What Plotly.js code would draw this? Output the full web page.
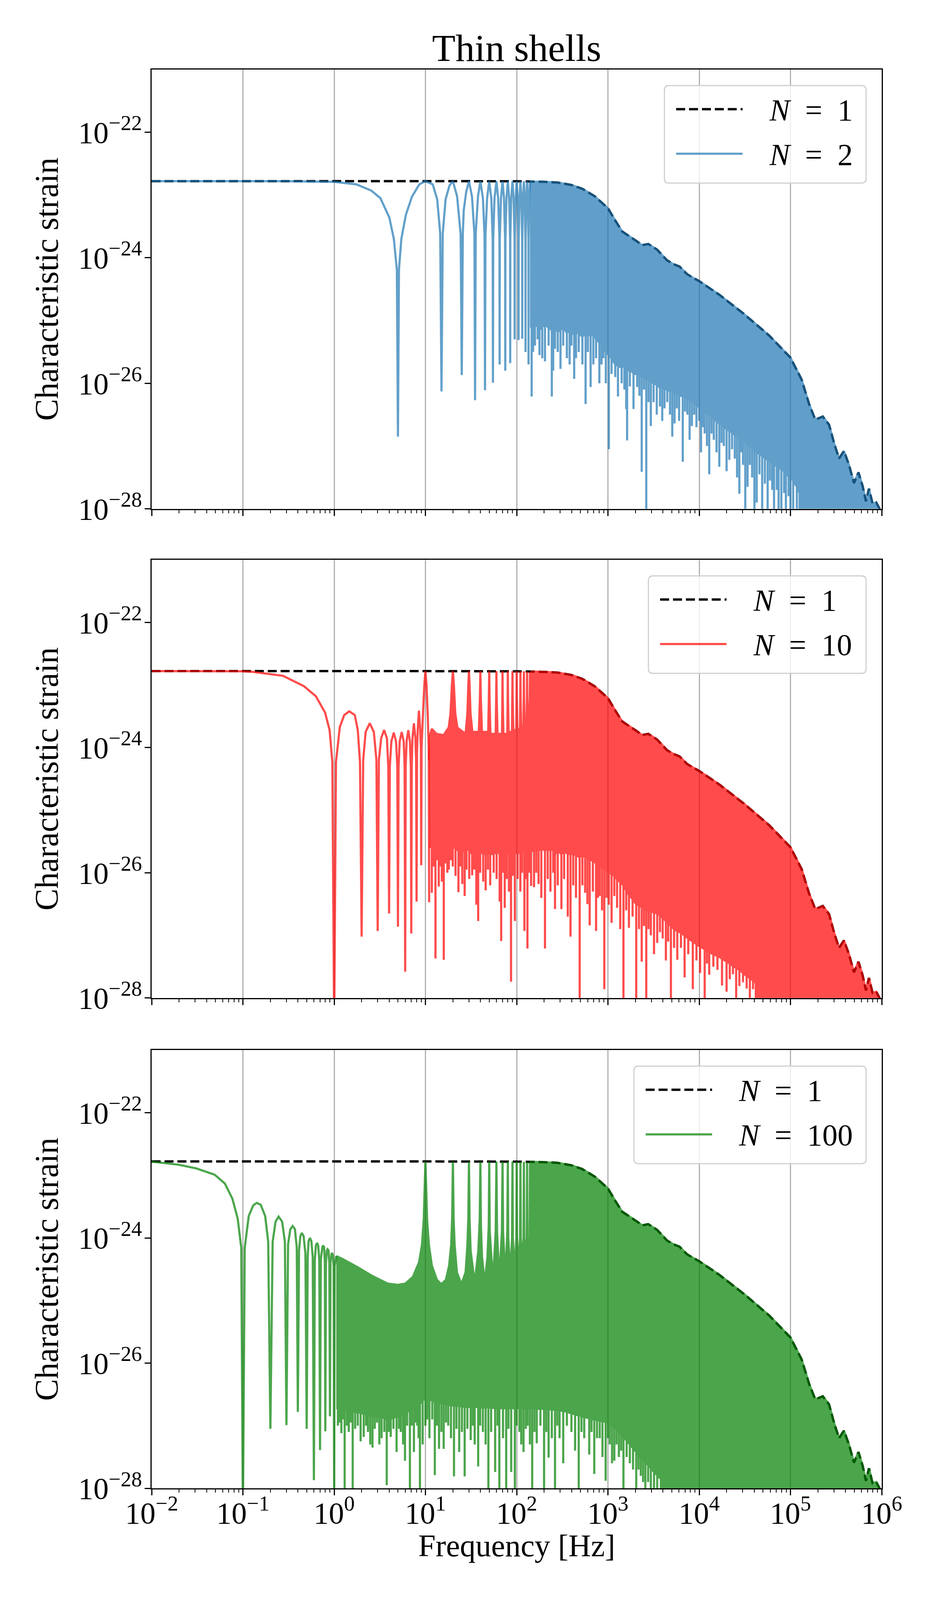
<!DOCTYPE html>
<html>
<head>
<meta charset="utf-8">
<script src="https://cdn.plot.ly/plotly-3.0.1.min.js"></script>
<style>html,body{margin:0;padding:0;background:#fff;overflow:hidden}</style>
</head>
<body>
<div id="plot" style="width:2400px;height:4200px"></div>
<script>
// All values are log10 readings off the axes: [log10 f (Hz), log10 strain]

// N = 1 curve (same in every panel)
const envPts = [
  [-2, -22.778], [-1, -22.778], [0, -22.778], [1, -22.778], [2, -22.781], [2.2, -22.786],
  [2.3, -22.79], [2.445, -22.80], [2.6, -22.84], [2.718, -22.90], [2.855, -23.02], [3.0, -23.21],
  [3.073, -23.39], [3.155, -23.58], [3.237, -23.66], [3.32, -23.74], [3.374, -23.80], [3.442, -23.78],
  [3.538, -23.87], [3.647, -24.04], [3.715, -24.10], [3.784, -24.14], [3.866, -24.26], [3.934, -24.32],
  [3.997, -24.37], [4.221, -24.59], [4.494, -24.90], [4.767, -25.24], [4.999, -25.59], [5.122, -25.94],
  [5.204, -26.33], [5.272, -26.58], [5.354, -26.53], [5.423, -26.66], [5.477, -26.95], [5.532, -27.20],
  [5.586, -27.08], [5.641, -27.30], [5.696, -27.59], [5.745, -27.42], [5.791, -27.64], [5.827, -27.88],
  [5.86, -27.68], [5.9, -27.92], [5.94, -27.90], [5.98, -28.01], [6.0, -28.2]
];

// N = 2: visible lobes up to 140 Hz
const p1Lobe = [
  [-2, -22.778], [-1, -22.778], [-0.5, -22.779], [0, -22.79], [0.244, -22.83], [0.408, -22.93],
  [0.507, -23.05], [0.605, -23.36], [0.654, -23.70], [0.687, -24.19], [0.699, -26.85], [0.710, -24.19],
  [0.736, -23.70], [0.785, -23.32], [0.851, -23.03], [0.933, -22.83], [1.0, -22.778],
  [1.080, -22.83], [1.129, -23.07], [1.162, -23.61], [1.176, -26.13], [1.190, -23.61], [1.221, -23.07],
  [1.263, -22.85], [1.301, -22.778],
  [1.347, -23.02], [1.386, -23.62], [1.398, -25.87], [1.410, -23.62], [1.42, -23.24], [1.447, -22.95], [1.477, -22.778],
  [1.510, -23.02], [1.537, -23.62], [1.544, -26.27], [1.551, -23.62], [1.576, -23.02], [1.602, -22.778],
  [1.630, -23.05], [1.648, -23.65], [1.653, -26.11], [1.658, -23.65], [1.676, -23.05], [1.699, -22.778],
  [1.722, -23.05], [1.737, -23.7], [1.740, -25.99], [1.743, -23.7], [1.757, -23.05], [1.778, -22.778],
  [1.797, -23.05], [1.811, -23.7], [1.813, -25.70], [1.815, -23.7], [1.828, -23.05], [1.845, -22.778],
  [1.861, -23.05], [1.873, -23.7], [1.875, -25.80], [1.877, -23.7], [1.888, -23.05], [1.903, -22.778],
  [1.917, -23.05], [1.928, -23.7], [1.929, -25.68], [1.930, -23.7], [1.940, -23.05], [1.954, -22.778],
  [1.966, -23.05], [1.977, -23.7], [1.978, -25.30], [1.979, -23.7], [1.989, -23.05], [2.0, -22.778],
  [2.011, -23.05], [2.020, -23.7], [2.021, -25.31], [2.022, -23.7], [2.031, -23.05], [2.041, -22.778],
  [2.051, -23.05], [2.060, -23.7], [2.061, -25.29], [2.062, -23.7], [2.070, -23.05], [2.079, -22.78],
  [2.088, -23.05], [2.096, -23.7], [2.097, -25.50], [2.098, -23.7], [2.106, -23.05], [2.114, -22.78],
  [2.122, -23.05], [2.129, -23.7], [2.130, -25.70], [2.131, -23.7], [2.138, -23.05], [2.146, -22.78]
];
// N = 2: top edge of the dense band (then follows the N = 1 curve)
const p1Top = [[2.146, -22.78]];
// N = 2: bottom edge of the dense band, [log f, band edge, spike tip]
const p1Low = [
  [2.146, -25.1, -25.1], [2.164, -25.1, -26.21], [2.18, -25.12, -25.5], [2.20, -25.05, -25.4],
  [2.23, -25.1, -25.3], [2.25, -25.15, -25.55], [2.28, -25.1, -25.6], [2.31, -25.05, -25.65],
  [2.35, -25.12, -25.4], [2.385, -25.15, -26.21], [2.40, -25.1, -25.8], [2.42, -25.12, -25.45],
  [2.45, -25.18, -25.5], [2.48, -25.15, -25.77], [2.51, -25.1, -25.4], [2.55, -25.2, -25.6],
  [2.58, -25.15, -25.7], [2.60, -25.2, -25.4], [2.63, -25.22, -25.93], [2.65, -25.15, -25.6],
  [2.68, -25.22, -25.5], [2.72, -25.25, -25.7], [2.755, -25.22, -26.33], [2.78, -25.2, -25.5],
  [2.81, -25.25, -26.06], [2.84, -25.2, -25.7], [2.87, -25.3, -25.6], [2.906, -25.35, -26.0],
  [2.93, -25.4, -25.7], [2.95, -25.45, -25.6], [2.977, -25.5, -26.0], [3.01, -25.55, -27.05],
  [3.04, -25.6, -25.85], [3.08, -25.7, -25.9], [3.11, -25.72, -26.21], [3.15, -25.75, -26.0],
  [3.18, -25.72, -26.1], [3.20, -25.8, -26.41], [3.21, -25.8, -26.91], [3.24, -25.78, -26.05],
  [3.28, -25.84, -26.41], [3.32, -25.86, -26.06], [3.345, -25.85, -26.2], [3.37, -25.9, -27.41],
  [3.395, -25.9, -26.1], [3.42, -25.93, -28.5], [3.445, -25.95, -26.3], [3.47, -25.97, -26.68],
  [3.50, -26.0, -26.3], [3.535, -26.02, -26.5], [3.57, -26.07, -26.37], [3.595, -26.05, -26.6],
  [3.62, -26.1, -26.4], [3.65, -26.1, -26.3], [3.68, -26.13, -26.5], [3.705, -26.12, -26.85],
  [3.73, -26.16, -26.64], [3.755, -26.15, -26.4], [3.78, -26.19, -26.6], [3.82, -26.21, -27.25],
  [3.845, -26.2, -26.45], [3.87, -26.25, -26.5], [3.895, -26.25, -26.9], [3.92, -26.3, -26.68],
  [3.945, -26.3, -26.5], [3.97, -26.35, -26.7], [4.0, -26.38, -26.6], [4.02, -26.42, -27.10],
  [4.04, -26.42, -26.7], [4.06, -26.46, -26.8], [4.085, -26.47, -27.0], [4.11, -26.51, -27.45],
  [4.135, -26.52, -26.8], [4.16, -26.57, -26.9], [4.19, -26.6, -27.1], [4.22, -26.64, -27.33],
  [4.245, -26.65, -26.95], [4.27, -26.7, -27.0], [4.30, -26.72, -27.4], [4.33, -26.76, -27.22],
  [4.36, -26.78, -27.05], [4.39, -26.82, -27.2], [4.415, -26.84, -27.5], [4.44, -26.88, -27.76],
  [4.46, -26.9, -27.1], [4.48, -26.92, -27.3], [4.505, -26.95, -28.5], [4.53, -26.98, -27.65],
  [4.555, -27.0, -27.3], [4.58, -27.04, -27.5], [4.605, -27.06, -28.5], [4.63, -27.1, -27.90],
  [4.66, -27.12, -27.45], [4.69, -27.16, -28.5], [4.72, -27.19, -27.6], [4.75, -27.22, -28.5],
  [4.775, -27.24, -27.55], [4.80, -27.27, -27.7], [4.82, -27.29, -28.5], [4.85, -27.32, -27.7],
  [4.87, -27.34, -28.5], [4.90, -27.37, -28.5], [4.93, -27.4, -27.75], [4.95, -27.45, -28.5],
  [4.98, -27.48, -27.8], [5.00, -27.5, -28.5], [5.03, -27.55, -28.5], [5.07, -27.65, -28.5],
  [5.1, -27.75, -28.5], [5.13, -28.5, -28.5], [6.0, -28.5, -28.5]
];

// N = 10: visible lobes up to 11 Hz
const p2Lobe = [
  [-2, -22.778], [-1, -22.78], [-0.89, -22.79], [-0.56, -22.853], [-0.33, -23.02], [-0.20, -23.18],
  [-0.10, -23.44], [-0.05, -23.72], [-0.02, -24.23], [0.0, -28.5], [0.02, -24.23], [0.062, -23.67],
  [0.11, -23.48], [0.165, -23.42], [0.226, -23.48], [0.259, -23.72], [0.283, -24.23], [0.301, -27.02],
  [0.318, -24.2], [0.345, -23.75], [0.39, -23.61], [0.435, -23.75], [0.463, -24.2], [0.477, -26.93],
  [0.490, -24.2], [0.515, -23.85], [0.547, -23.72], [0.578, -23.85], [0.593, -24.3], [0.602, -26.65],
  [0.610, -24.3], [0.627, -23.9], [0.653, -23.76], [0.678, -23.9], [0.692, -24.3], [0.699, -26.86],
  [0.706, -24.3], [0.718, -23.9], [0.740, -23.75], [0.762, -23.9], [0.772, -24.3], [0.778, -27.58],
  [0.784, -24.3], [0.794, -23.9], [0.812, -23.72], [0.830, -23.9], [0.840, -24.3], [0.845, -26.97],
  [0.850, -24.3], [0.858, -23.85], [0.874, -23.61], [0.890, -23.85], [0.898, -24.2], [0.903, -26.46],
  [0.908, -24.1], [0.916, -23.7], [0.929, -23.41], [0.942, -23.7], [0.950, -24.0], [0.954, -25.88],
  [0.958, -24.0], [0.972, -23.5], [0.988, -23.0], [1.0, -22.778], [1.012, -23.0], [1.026, -23.5],
  [1.036, -24.0], [1.041, -26.47]
];
const p2Top = [
  [1.041, -24.2], [1.05, -23.8], [1.07, -23.7], [1.12, -23.78], [1.2, -23.8], [1.255, -23.68],
  [1.275, -23.45], [1.290, -23.0], [1.301, -22.778], [1.312, -23.0], [1.327, -23.45], [1.35, -23.68],
  [1.44, -23.78], [1.46, -23.45], [1.470, -23.0], [1.477, -22.778], [1.484, -23.0], [1.494, -23.45],
  [1.515, -23.75], [1.585, -23.75], [1.597, -23.2], [1.602, -22.778], [1.607, -23.2], [1.62, -23.75],
  [1.688, -23.75], [1.695, -23.2], [1.699, -22.778], [1.703, -23.2], [1.712, -23.78], [1.770, -23.78],
  [1.775, -23.2], [1.778, -22.778], [1.781, -23.2], [1.79, -23.78], [1.839, -23.78], [1.843, -23.2],
  [1.845, -22.778], [1.847, -23.2], [1.855, -23.78], [1.897, -23.78], [1.901, -23.2], [1.903, -22.778],
  [1.905, -23.2], [1.912, -23.75], [1.948, -23.75], [1.952, -23.2], [1.954, -22.778], [1.956, -23.2],
  [1.963, -23.72], [1.995, -23.72], [1.998, -23.2], [2.0, -22.778], [2.002, -23.2], [2.008, -23.7],
  [2.036, -23.7], [2.039, -23.2], [2.041, -22.778], [2.043, -23.2], [2.049, -23.65], [2.074, -23.65],
  [2.077, -23.2], [2.079, -22.78], [2.081, -23.2], [2.087, -23.6], [2.109, -23.6], [2.112, -23.2],
  [2.114, -22.785], [2.116, -23.2], [2.122, -23.5], [2.141, -23.5], [2.144, -23.1], [2.146, -22.79],
  [2.15, -23.2], [2.157, -23.2], [2.161, -22.79]
];
const p2Low = [
  [1.045, -25.6, -25.6], [1.07, -25.55, -26.32], [1.09, -25.6, -25.9], [1.11, -25.6, -27.37],
  [1.13, -25.5, -25.8], [1.146, -25.6, -26.22], [1.165, -25.55, -25.9], [1.18, -25.6, -26.14],
  [1.201, -25.6, -27.39], [1.22, -25.5, -25.85], [1.24, -25.6, -26.0], [1.257, -25.6, -25.95],
  [1.28, -25.55, -25.8], [1.30, -25.6, -25.9], [1.33, -25.6, -26.05], [1.362, -25.65, -26.31],
  [1.385, -25.6, -25.9], [1.404, -25.65, -26.18], [1.43, -25.65, -26.37], [1.45, -25.6, -25.95],
  [1.48, -25.65, -26.1], [1.512, -25.7, -26.04], [1.535, -25.65, -25.95], [1.558, -25.7, -26.51],
  [1.578, -25.7, -26.77], [1.60, -25.65, -26.0], [1.633, -25.7, -26.14], [1.66, -25.7, -26.28],
  [1.685, -25.65, -25.95], [1.71, -25.7, -26.2], [1.748, -25.7, -26.0], [1.78, -25.65, -26.1],
  [1.813, -25.7, -26.46], [1.83, -25.7, -27.09], [1.85, -25.65, -26.0], [1.869, -25.7, -26.56],
  [1.89, -25.7, -26.1], [1.915, -25.65, -26.3], [1.938, -25.7, -27.74], [1.96, -25.7, -26.05],
  [1.98, -25.7, -26.77], [2.01, -25.65, -26.1], [2.04, -25.7, -26.3], [2.06, -25.65, -26.0],
  [2.085, -25.65, -26.93], [2.10, -25.6, -26.1], [2.118, -25.65, -27.21], [2.14, -25.6, -26.0],
  [2.158, -25.65, -26.21], [2.19, -25.65, -26.23], [2.215, -25.6, -26.0], [2.24, -25.65, -26.18],
  [2.27, -25.6, -26.4], [2.31, -25.65, -27.21], [2.34, -25.6, -26.1], [2.37, -25.65, -26.3],
  [2.40, -25.6, -26.0], [2.42, -25.7, -26.58], [2.45, -25.65, -26.2], [2.49, -25.7, -26.58],
  [2.52, -25.65, -26.1], [2.56, -25.7, -26.70], [2.59, -25.7, -27.02], [2.62, -25.7, -26.2],
  [2.65, -25.72, -26.4], [2.69, -25.75, -28.5], [2.72, -25.72, -26.2], [2.75, -25.75, -26.32],
  [2.775, -25.75, -26.5], [2.80, -25.8, -26.84], [2.835, -25.8, -26.3], [2.87, -25.85, -26.93],
  [2.89, -25.85, -26.4], [2.91, -25.9, -26.37], [2.935, -25.9, -26.6], [2.96, -25.95, -27.86],
  [2.985, -25.95, -26.4], [3.01, -26.0, -26.51], [3.04, -26.02, -26.8], [3.07, -26.05, -26.37],
  [3.10, -26.1, -26.56], [3.135, -26.15, -26.9], [3.17, -26.2, -28.5], [3.20, -26.28, -26.6],
  [3.23, -26.35, -26.88], [3.27, -26.42, -26.7], [3.31, -26.5, -28.5], [3.34, -26.52, -26.9],
  [3.37, -26.55, -27.42], [3.395, -26.57, -26.85], [3.42, -26.6, -28.5], [3.445, -26.6, -26.9],
  [3.47, -26.62, -27.0], [3.505, -26.63, -27.3], [3.54, -26.65, -27.12], [3.57, -26.68, -26.95],
  [3.60, -26.72, -27.05], [3.635, -26.77, -27.4], [3.66, -26.8, -27.1], [3.69, -26.85, -28.5],
  [3.725, -26.9, -27.2], [3.76, -26.93, -27.39], [3.80, -26.96, -27.2], [3.84, -27.0, -27.67],
  [3.88, -27.05, -27.3], [3.93, -27.1, -27.86], [3.97, -27.14, -27.4], [4.01, -27.18, -27.6],
  [4.06, -27.22, -28.5], [4.085, -27.24, -27.45], [4.11, -27.27, -27.63], [4.155, -27.3, -27.5],
  [4.20, -27.33, -27.55], [4.25, -27.37, -27.8], [4.30, -27.42, -27.9], [4.335, -27.45, -27.7],
  [4.37, -27.49, -27.62], [4.405, -27.52, -28.5], [4.44, -27.55, -27.81], [4.48, -27.6, -27.75],
  [4.52, -27.65, -27.85], [4.555, -27.68, -28.5], [4.59, -27.72, -27.86], [4.62, -27.76, -28.5],
  [4.65, -28.5, -28.5], [6.0, -28.5, -28.5]
];

// N = 100: visible lobes up to 1 Hz
const p3Lobe = [
  [-2, -22.78], [-1.705, -22.83], [-1.509, -22.89], [-1.31, -22.99], [-1.198, -23.13], [-1.116, -23.37],
  [-1.057, -23.69], [-1.018, -24.16], [-1.0, -28.5], [-0.98, -24.16], [-0.936, -23.65], [-0.887, -23.48],
  [-0.848, -23.44], [-0.805, -23.47], [-0.756, -23.65], [-0.723, -24.06], [-0.699, -27.05],
  [-0.674, -24.06], [-0.642, -23.74], [-0.609, -23.66], [-0.57, -23.74], [-0.54, -24.06], [-0.523, -26.99],
  [-0.505, -24.1], [-0.48, -23.86], [-0.455, -23.81], [-0.43, -23.86], [-0.41, -24.15], [-0.398, -26.78],
  [-0.385, -24.2], [-0.37, -23.97], [-0.354, -23.92], [-0.335, -23.97], [-0.315, -24.25], [-0.301, -27.05],
  [-0.29, -24.3], [-0.28, -24.05], [-0.265, -24.0], [-0.25, -24.05], [-0.235, -24.3], [-0.222, -27.87],
  [-0.212, -24.35], [-0.2, -24.12], [-0.187, -24.08], [-0.175, -24.12], [-0.163, -24.35], [-0.155, -27.39],
  [-0.146, -24.35], [-0.13, -24.15], [-0.121, -24.12], [-0.11, -24.15], [-0.102, -24.4], [-0.097, -27.09],
  [-0.09, -24.4], [-0.08, -24.2], [-0.072, -24.18], [-0.062, -24.2], [-0.053, -24.4], [-0.046, -26.85],
  [-0.04, -24.4], [-0.03, -24.26], [-0.023, -24.24], [-0.015, -24.27], [-0.006, -24.45], [0.0, -28.5],
  [0.005, -24.45], [0.023, -24.29]
];
const p3Top = [
  [0.023, -24.29], [0.095, -24.34], [0.259, -24.47], [0.42, -24.61], [0.586, -24.73], [0.70, -24.75],
  [0.78, -24.73], [0.864, -24.62], [0.93, -24.39], [0.962, -24.11], [0.982, -23.69], [1.0, -22.778],
  [1.018, -23.69], [1.038, -24.11], [1.07, -24.44], [1.126, -24.67], [1.175, -24.74], [1.224, -24.67],
  [1.26, -24.44], [1.282, -24.11], [1.293, -23.69], [1.301, -22.778], [1.309, -23.69], [1.32, -24.11],
  [1.345, -24.55], [1.395, -24.74], [1.44, -24.55], [1.46, -24.11], [1.47, -23.69], [1.477, -22.778],
  [1.484, -23.7], [1.495, -24.2], [1.54, -24.72], [1.58, -24.2], [1.595, -23.7], [1.602, -22.78],
  [1.608, -23.8], [1.62, -24.3], [1.65, -24.72], [1.68, -24.3], [1.694, -23.8], [1.699, -22.78],
  [1.705, -23.9], [1.74, -24.7], [1.77, -23.9], [1.778, -22.78], [1.785, -23.9], [1.81, -24.68],
  [1.838, -23.9], [1.845, -22.78], [1.851, -23.9], [1.875, -24.65], [1.897, -23.9], [1.903, -22.78],
  [1.908, -24.0], [1.93, -24.6], [1.949, -24.0], [1.954, -22.78], [1.958, -24.0], [1.98, -24.55],
  [1.996, -24.0], [2.0, -22.78], [2.004, -24.0], [2.02, -24.5], [2.037, -24.0], [2.041, -22.78],
  [2.045, -24.0], [2.06, -24.45], [2.075, -24.0], [2.079, -22.785], [2.083, -24.0], [2.097, -24.4],
  [2.11, -24.0], [2.114, -22.785], [2.118, -24.0], [2.13, -24.3], [2.142, -24.0], [2.146, -22.79]
];
const p3Low = [
  [0.023, -26.72, -26.72], [0.041, -26.72, -27.0], [0.06, -26.7, -26.95], [0.079, -26.74, -27.12],
  [0.097, -26.72, -26.9], [0.115, -26.75, -28.5], [0.14, -26.73, -27.0], [0.16, -26.77, -27.1],
  [0.18, -26.75, -26.95], [0.203, -26.78, -28.5], [0.23, -26.76, -27.05], [0.259, -26.8, -27.0],
  [0.29, -26.78, -27.25], [0.324, -26.82, -27.18], [0.35, -26.8, -27.0], [0.37, -26.84, -27.1],
  [0.395, -26.82, -27.3], [0.42, -26.86, -27.35], [0.445, -26.84, -27.05], [0.47, -26.87, -26.95],
  [0.495, -26.85, -27.3], [0.52, -26.88, -27.2], [0.55, -26.86, -27.1], [0.576, -26.9, -27.95],
  [0.60, -26.88, -27.1], [0.62, -26.89, -27.18], [0.65, -26.87, -27.05], [0.684, -26.86, -27.42],
  [0.71, -26.84, -27.05], [0.73, -26.83, -27.1], [0.755, -26.82, -27.3], [0.776, -26.8, -27.56],
  [0.80, -26.78, -27.0], [0.83, -26.75, -28.5], [0.85, -26.72, -27.0], [0.874, -26.7, -27.42],
  [0.89, -26.68, -26.95], [0.91, -26.66, -27.0], [0.925, -26.66, -27.2], [0.94, -26.65, -28.5],
  [0.97, -26.6, -27.3], [1.0, -26.55, -27.0], [1.02, -26.55, -26.9], [1.044, -26.58, -27.2],
  [1.075, -26.6, -26.9], [1.103, -26.62, -27.79], [1.125, -26.62, -27.0], [1.149, -26.64, -27.37],
  [1.175, -26.64, -27.1], [1.20, -26.65, -27.37], [1.225, -26.65, -26.95], [1.25, -26.67, -27.0],
  [1.28, -26.67, -27.2], [1.313, -26.68, -27.81], [1.34, -26.68, -27.05], [1.37, -26.69, -27.42],
  [1.40, -26.69, -27.1], [1.43, -26.7, -27.81], [1.46, -26.7, -27.05], [1.496, -26.7, -27.23],
  [1.52, -26.7, -27.0], [1.54, -26.7, -27.3], [1.578, -26.7, -27.65], [1.60, -26.7, -27.0],
  [1.63, -26.71, -27.1], [1.66, -26.71, -27.3], [1.69, -26.71, -28.5], [1.72, -26.71, -27.1],
  [1.764, -26.72, -27.74], [1.79, -26.72, -27.0], [1.81, -26.72, -28.5], [1.85, -26.72, -27.2],
  [1.885, -26.72, -28.5], [1.91, -26.72, -27.05], [1.94, -26.72, -27.74], [1.98, -26.72, -28.5],
  [2.0, -26.72, -27.0], [2.03, -26.72, -27.1], [2.05, -26.72, -27.3], [2.075, -26.72, -27.42],
  [2.10, -26.72, -27.05], [2.12, -26.72, -27.0], [2.145, -26.72, -27.3], [2.17, -26.72, -28.5],
  [2.195, -26.72, -27.1], [2.22, -26.73, -27.28], [2.26, -26.73, -27.0], [2.30, -26.73, -28.5],
  [2.325, -26.74, -27.1], [2.35, -26.74, -27.51], [2.385, -26.74, -27.2], [2.42, -26.75, -28.5],
  [2.445, -26.75, -27.0], [2.47, -26.75, -27.2], [2.51, -26.76, -27.6], [2.55, -26.78, -27.0],
  [2.60, -26.8, -27.1], [2.64, -26.82, -27.4], [2.68, -26.83, -28.5], [2.71, -26.85, -27.1],
  [2.74, -26.86, -27.2], [2.795, -26.88, -27.46], [2.82, -26.89, -27.1], [2.85, -26.9, -27.77],
  [2.88, -26.91, -27.2], [2.91, -26.92, -27.2], [2.94, -26.93, -27.5], [2.975, -26.94, -27.88],
  [3.0, -26.96, -27.2], [3.02, -26.97, -27.3], [3.045, -27.0, -27.6], [3.07, -27.02, -27.56],
  [3.095, -27.05, -27.3], [3.12, -27.1, -27.5], [3.145, -27.14, -27.4], [3.17, -27.18, -28.5],
  [3.205, -27.24, -27.5], [3.24, -27.3, -27.6], [3.275, -27.36, -27.7], [3.31, -27.42, -28.5],
  [3.335, -27.46, -27.7], [3.36, -27.5, -27.8], [3.385, -27.54, -27.9], [3.41, -27.58, -28.5],
  [3.44, -27.63, -27.9], [3.47, -27.68, -28.0], [3.505, -27.74, -28.5], [3.54, -27.79, -28.5],
  [3.58, -27.85, -28.5], [3.62, -28.5, -28.5], [6.0, -28.5, -28.5]
];

const nValues = [2, 10, 100];
const colors = ['#1f77b4', '#ff0000', '#008000'];
const lobes = [p1Lobe, p2Lobe, p3Lobe];
const tops = [p1Top, p2Top, p3Top];
const lows = [p1Low, p2Low, p3Low];
const xTickExp = [-2, -1, 0, 1, 2, 3, 4, 5, 6];
const yTickExp = [-28, -26, -24, -22];

const FONT = 'Liberation Serif, DejaVu Serif, serif';
const pow10 = v => Math.pow(10, v);
const MINUS = '\u2212';
const expLabel = e => '10<sup>' + (e < 0 ? MINUS + (-e) : e) + '</sup>';

// pixel layout of the 2400 x 4200 original; the page is fitted to the visible window height
const W = 2400, H0 = 4200;
const H = window.innerHeight > 1000 ? Math.min(window.innerHeight, H0) : H0;
const sy = H / H0;
document.getElementById('plot').style.height = H + 'px';
const L = 388, R = 144, T = 183, B = 293;
const plotW = W - L - R, plotH = H0 - T - B;
const panelTop = [183, 1470, 2757], panelBot = [1336, 2620, 3907];
const px = X => (X - L) / plotW;
const py = Y => (H0 - B - Y) / plotH;

const ax = i => (i === 0 ? '' : String(i + 1));
const traces = [];
for (let i = 0; i < 3; i++) {
  const xa = 'x' + ax(i), ya = 'y' + ax(i);
  traces.push({
    x: envPts.map(p => pow10(p[0])), y: envPts.map(p => pow10(p[1])),
    type: 'scatter', mode: 'lines', xaxis: xa, yaxis: ya, hoverinfo: 'skip', showlegend: false,
    line: {color: 'black', width: 6, dash: '23px,10px', simplify: false}
  });
  traces.push({
    x: lobes[i].map(p => pow10(p[0])), y: lobes[i].map(p => pow10(p[1])),
    type: 'scatter', mode: 'lines', xaxis: xa, yaxis: ya, hoverinfo: 'skip', showlegend: false,
    opacity: 0.7, line: {color: colors[i], width: 5.5, simplify: false}
  });
  // dense band: top edge then N = 1 curve, back along the bottom edge with its spikes
  const top = tops[i];
  const f0 = top[top.length - 1][0];
  const upper = top.concat(envPts.filter(p => p[0] > f0));
  const bx = upper.map(p => pow10(p[0])), by = upper.map(p => pow10(p[1]));
  const low = lows[i];
  for (let k = low.length - 1; k >= 0; k--) {
    const f = pow10(low[k][0]);
    bx.push(f, f, f);
    by.push(pow10(low[k][1]), pow10(low[k][2]), pow10(low[k][1]));
  }
  traces.push({
    x: bx, y: by, type: 'scatter', mode: 'lines', fill: 'toself', fillcolor: colors[i],
    xaxis: xa, yaxis: ya, hoverinfo: 'skip', showlegend: false,
    opacity: 0.7, line: {color: colors[i], width: 5.5, simplify: false}
  });
}

const minorVals = [];
for (let e = -2; e < 6; e++) for (let m = 2; m <= 9; m++) minorVals.push(m * pow10(e));

const layout = {
  width: W, height: H,
  margin: {l: L, r: R, t: T * sy, b: B * sy},
  paper_bgcolor: 'white', plot_bgcolor: 'white',
  font: {family: FONT, color: 'black', size: 78},
  showlegend: false,
  title: {
    text: 'Thin shells', font: {family: FONT, size: 98, color: 'black'},
    x: 0.5, xref: 'paper', xanchor: 'center', y: 1 - 160 / H0, yref: 'container', yanchor: 'bottom'
  },
  shapes: [],
  annotations: [{
    text: 'Frequency [Hz]', xref: 'paper', yref: 'paper', x: 0.5, y: py(4058),
    xanchor: 'center', yanchor: 'middle', showarrow: false,
    font: {family: FONT, size: 80, color: 'black'}
  }]
};

for (let i = 0; i < 3; i++) {
  const dom = [py(panelBot[i]), py(panelTop[i])];
  layout['xaxis' + ax(i)] = {
    type: 'log', range: [-2, 6], anchor: 'y' + ax(i), domain: [0, 1],
    tickmode: 'array', tickvals: xTickExp.map(pow10), ticktext: xTickExp.map(expLabel),
    showticklabels: i === 2, ticks: 'outside', ticklen: 15, tickwidth: 3, tickcolor: 'black',
    ticklabelstandoff: -22,
    minor: {tickmode: 'array', tickvals: minorVals, ticks: 'outside', ticklen: 8, tickwidth: 2, tickcolor: 'black', showgrid: false},
    showgrid: true, gridcolor: '#b0b0b0', gridwidth: 3,
    showline: true, linecolor: 'black', linewidth: 3, mirror: true, zeroline: false,
    tickfont: {family: FONT, size: 78, color: 'black'}
  };
  layout['yaxis' + ax(i)] = {
    type: 'log', range: [-28, -21], anchor: 'x' + ax(i), domain: dom,
    tickmode: 'array', tickvals: yTickExp.map(pow10), ticktext: yTickExp.map(expLabel),
    ticks: 'outside', ticklen: 15, tickwidth: 3, tickcolor: 'black', ticklabelstandoff: -9,
    showgrid: false, showline: true, linecolor: 'black', linewidth: 3, mirror: true, zeroline: false,
    tickfont: {family: FONT, size: 78, color: 'black'},
    title: {text: 'Characteristic strain', font: {family: FONT, size: 84, color: 'black'}, standoff: 24}
  };

  // legend box drawn by hand so the line samples match the original length
  const lx0 = [1700, 1659, 1622][i], lx1 = 2216;
  const ly0 = panelTop[i] + 42, ly1 = ly0 + 256, r = 12;
  const P = (X, Y) => px(X).toFixed(5) + ',' + py(Y).toFixed(5);
  const path = 'M' + P(lx0 + r, ly0) + ' L' + P(lx1 - r, ly0) + ' Q' + P(lx1, ly0) + ' ' + P(lx1, ly0 + r) +
    ' L' + P(lx1, ly1 - r) + ' Q' + P(lx1, ly1) + ' ' + P(lx1 - r, ly1) +
    ' L' + P(lx0 + r, ly1) + ' Q' + P(lx0, ly1) + ' ' + P(lx0, ly1 - r) +
    ' L' + P(lx0, ly0 + r) + ' Q' + P(lx0, ly0) + ' ' + P(lx0 + r, ly0) + ' Z';
  layout.shapes.push({type: 'path', path, xref: 'paper', yref: 'paper', layer: 'above',
    fillcolor: 'rgba(255,255,255,0.8)', line: {color: '#d0d0d0', width: 3}});
  const rows = [ly0 + 62, ly0 + 179];
  layout.shapes.push({type: 'line', xref: 'paper', yref: 'paper', layer: 'above',
    x0: px(lx0 + 30), x1: px(lx0 + 200), y0: py(rows[0]), y1: py(rows[0]),
    line: {color: 'black', width: 6, dash: '23px,10px'}});
  layout.shapes.push({type: 'line', xref: 'paper', yref: 'paper', layer: 'above', opacity: 0.7,
    x0: px(lx0 + 30), x1: px(lx0 + 200), y0: py(rows[1]), y1: py(rows[1]),
    line: {color: colors[i], width: 5.5}});
  [1, nValues[i]].forEach((n, k) => {
    layout.annotations.push({
      text: '<i>N</i>\u2002=\u2002' + n, xref: 'paper', yref: 'paper',
      x: px(lx0 + 266), y: py(rows[k] + 2), xanchor: 'left', yanchor: 'middle', showarrow: false,
      font: {family: FONT, size: 78, color: 'black'}
    });
  });
}

Plotly.newPlot('plot', traces, layout, {staticPlot: true});
</script>
</body>
</html>
